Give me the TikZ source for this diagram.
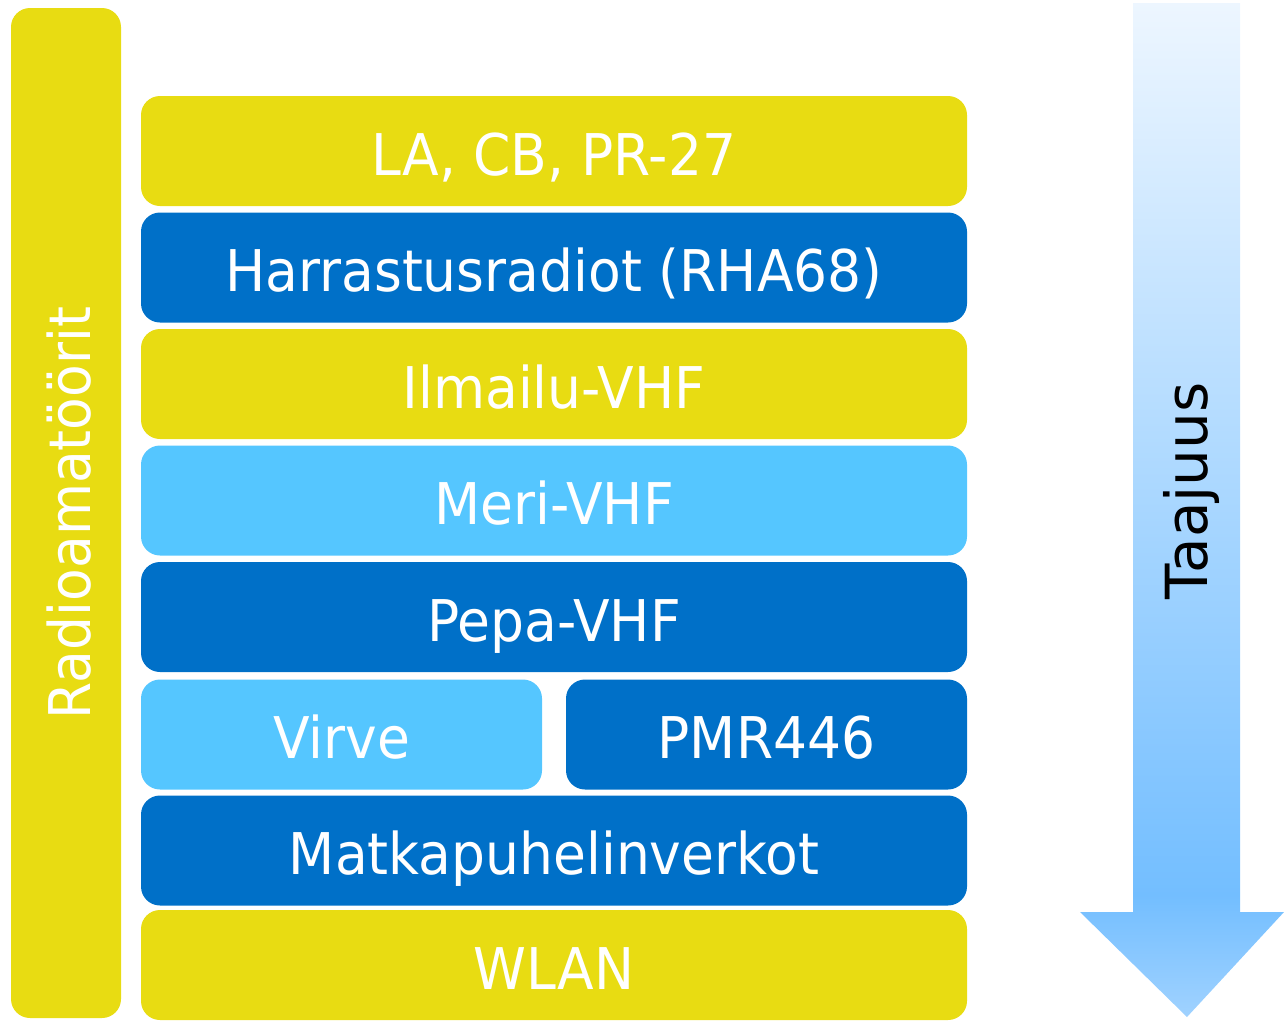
\documentclass[tikz,border=0pt]{standalone}
\usepackage{fontspec}
\setmainfont{DejaVu Sans}
\newfontfamily\bandfont[FakeStretch=0.93]{DejaVu Sans}
\usepackage{tikz}
\usetikzlibrary{shapes.geometric}

\definecolor{bandyellow}{RGB}{232,220,18}
\definecolor{banddark}{RGB}{0,112,200}
\definecolor{bandlight}{RGB}{85,198,255}
\definecolor{arrowtop}{RGB}{237,246,255}
\definecolor{arrowmid}{RGB}{115,190,255}
\definecolor{arrowtip}{RGB}{160,210,255}
\pgfdeclareverticalshading{taajuusfade}{100bp}{color(0bp)=(arrowtip); color(25bp)=(arrowtip);
	color(31bp)=(arrowmid); color(75bp)=(arrowtop); color(100bp)=(arrowtop)}

\tikzset{
	band/.style={rectangle, rounded corners=19pt, minimum width=826pt, minimum height=110pt,
		inner sep=0pt, text=white, text height=48pt, text depth=0pt,
		font=\bandfont\fontsize{57.5}{60}\selectfont},
	halfband/.style={band, minimum width=401pt}
}

\begin{document}
\begin{tikzpicture}[x=1pt, y=-1pt]
				\useasboundingbox (0, 0) rectangle (1284, 1020);
				% Bands:
				\node[band, fill=bandyellow, rotate=90, minimum width=1010pt](B0) at (66, 513){Radioamatöörit};
				\node[band, fill=bandyellow](B1) at (554, 151){LA, CB, PR-27};
				\node[band, fill=banddark](B2) at (554, 267.5){Harrastusradiot (RHA68)};
				\node[band, fill=bandyellow](B3) at (554, 384){Ilmailu-VHF};
				\node[band, fill=bandlight](B4) at (554, 500.5){Meri-VHF};
				\node[band, fill=banddark](B5) at (554, 617){Pepa-VHF};
				\node[halfband, fill=bandlight](B6) at (341.5, 734.5){Virve};
				\node[halfband, fill=banddark](B7) at (766.5, 734.5){PMR446};
				\node[band, fill=banddark](B8) at (554, 850.5){Matkapuhelinverkot};
				\node[band, fill=bandyellow](B9) at (554, 965){WLAN};
				% Arrow:
				\shade[shading=taajuusfade] (1133, 3) -- (1240, 3) -- (1240, 912) -- (1284, 912)
					-- (1187, 1017) -- (1080, 912) -- (1133, 912) -- cycle;
				\node[rotate=90, inner sep=0pt, text height=44pt, text depth=0pt,
					font=\fontsize{58}{60}\selectfont](T1) at (1185, 491){Taajuus};
			\end{tikzpicture}
\end{document}
